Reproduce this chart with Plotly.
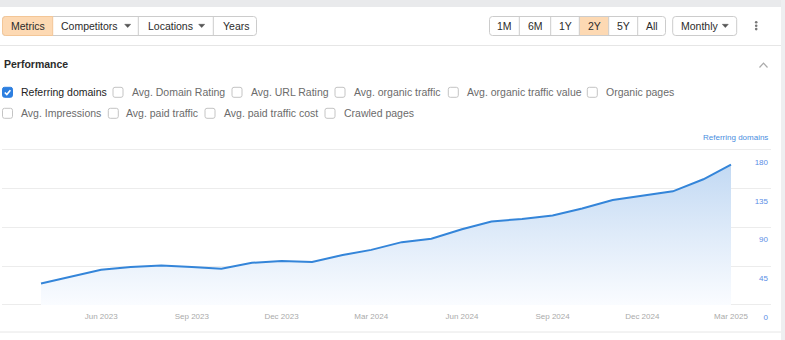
import plotly.graph_objects as go
import pandas as pd

# ---------------- data ----------------
months = ["2023-04-01", "2023-05-01", "2023-06-01", "2023-07-01", "2023-08-01", "2023-09-01",
          "2023-10-01", "2023-11-01", "2023-12-01", "2024-01-01", "2024-02-01", "2024-03-01",
          "2024-04-01", "2024-05-01", "2024-06-01", "2024-07-01", "2024-08-01", "2024-09-01",
          "2024-10-01", "2024-11-01", "2024-12-01", "2025-01-01", "2025-02-01", "2025-03-01"]
referring_domains = [25, 33, 41, 44, 46, 44, 42, 49, 51, 50, 58, 64,
                     73, 77, 88, 97, 100, 104, 112, 122, 127, 132, 146, 163]
x_tick_dates = ["2023-06-01", "2023-09-01", "2023-12-01", "2024-03-01",
                "2024-06-01", "2024-09-01", "2024-12-01", "2025-03-01"]
x_tick_labels = ["Jun 2023", "Sep 2023", "Dec 2023", "Mar 2024",
                 "Jun 2024", "Sep 2024", "Dec 2024", "Mar 2025"]
y_tick_values = [0, 45, 90, 135, 180]
toolbar_left = ["Metrics", "Competitors", "Locations", "Years"]
period_buttons = ["1M", "6M", "1Y", "2Y", "5Y", "All"]
metrics_row1 = ["Referring domains", "Avg. Domain Rating", "Avg. URL Rating",
                "Avg. organic traffic", "Avg. organic traffic value", "Organic pages"]
metrics_row2 = ["Avg. Impressions", "Avg. paid traffic", "Avg. paid traffic cost", "Crawled pages"]

# ---------------- layout constants ----------------
W, H = 785, 340
FONT = "Liberation Sans, Arial, sans-serif"
PLOT_L, PLOT_R = 2, 771
Y_TOP_PX, Y_ZERO_PX = 150, 305          # pixel rows of 180 and 0
Y_MAX = 180
Y_PAD = 1.5                              # small padding so edge gridlines are drawn
px_per_unit = (Y_ZERO_PX - Y_TOP_PX) / Y_MAX
dom_top_px = Y_TOP_PX - Y_PAD * px_per_unit
dom_bot_px = Y_ZERO_PX + Y_PAD * px_per_unit
X_FIRST_PX, X_LAST_PX = 41, 731

t0 = pd.Timestamp(months[0])
t1 = pd.Timestamp(months[-1])
days = (t1 - t0).days
px_per_day = (X_LAST_PX - X_FIRST_PX) / days
x_left = t0 - pd.Timedelta(days=(X_FIRST_PX - PLOT_L) / px_per_day)
x_right = t1 + pd.Timedelta(days=(PLOT_R - X_LAST_PX) / px_per_day)

fig = go.Figure()

fig.add_trace(go.Scatter(
    x=months, y=referring_domains, mode="lines",
    line=dict(color="#3485d9", width=2),
    fill="tozeroy",
    fillgradient=dict(type="vertical", start=0, stop=max(referring_domains),
                      colorscale=[[0, "rgba(250,252,255,1)"], [0.5, "rgba(223,235,249,1)"],
                                  [1, "rgba(194,217,243,1)"]]),
    hoverinfo="skip", showlegend=False,
))
# invisible overlay subplot in pixel coordinates for the UI chrome
fig.add_trace(go.Scatter(x=[0], y=[0], xaxis="x2", yaxis="y2", mode="markers",
                         marker=dict(opacity=0), hoverinfo="skip", showlegend=False))

shapes = []
annotations = []


def rrect(x0, y0, x1, y1, r, left=True, right=True):
    rl = r if left else 0
    rr = r if right else 0
    return (f"M{x0+rl},{y0} L{x1-rr},{y0} Q{x1},{y0} {x1},{y0+rr} L{x1},{y1-rr} "
            f"Q{x1},{y1} {x1-rr},{y1} L{x0+rl},{y1} Q{x0},{y1} {x0},{y1-rl} "
            f"L{x0},{y0+rl} Q{x0},{y0} {x0+rl},{y0} Z")


def add_path(path, fill=None, line="rgba(0,0,0,0)", width=1):
    shapes.append(dict(type="path", path=path, xref="x2", yref="y2",
                       fillcolor=fill if fill else "rgba(0,0,0,0)",
                       line=dict(color=line, width=width), layer="above"))


def add_rect(x0, y0, x1, y1, fill, layer="below"):
    shapes.append(dict(type="rect", x0=x0, y0=y0, x1=x1, y1=y1, xref="x2", yref="y2",
                       fillcolor=fill, line=dict(width=0), layer=layer))


def add_line(x0, y0, x1, y1, color, width=1):
    shapes.append(dict(type="line", x0=x0, y0=y0, x1=x1, y1=y1, xref="x2", yref="y2",
                       line=dict(color=color, width=width), layer="above"))


def add_text(x, y, text, size=10.5, color="#333333", anchor="left", bold=False):
    annotations.append(dict(x=x, y=y, xref="x2", yref="y2", text=f"<b>{text}</b>" if bold else text,
                            showarrow=False, xanchor=anchor, yanchor="middle",
                            font=dict(family=FONT, size=size, color=color)))


def tri(x, y, color="#555555"):
    add_path(f"M{x-3},{y-1.5} L{x+3},{y-1.5} L{x},{y+1.8} Z", fill=color, line=color, width=0.5)


# page background pieces
add_rect(0, 0, W, 7, "#e9eaec")
add_rect(781, 0, W, H, "#eeeff1")
add_line(0, 45.5, 781, 45.5, "#e6e6e6")
add_line(0, 332, 781, 332, "#e6e6e6")

BORDER = "#cccccc"
PEACH = "#fdd9b3"
PEACH_BORDER = "#f3c697"
BY0, BY1 = 16.5, 35.5
BCY = 25.8

# left toolbar
lb_edges = [2.5, 52.7, 138.3, 213.3, 256.5]
lb_centers = [27.7, 89.0, 170.0, 235.5]
add_path(rrect(lb_edges[0], BY0, lb_edges[-1], BY1, 3), fill="#ffffff", line=BORDER)
add_path(rrect(lb_edges[0], BY0, lb_edges[1], BY1, 3, right=False), fill=PEACH, line=PEACH_BORDER)
for e in lb_edges[2:-1]:
    add_line(e, BY0, e, BY1, BORDER)
for i, lab in enumerate(toolbar_left):
    add_text(lb_centers[i], BCY, lab, anchor="center", color="#2b2b2b")
tri(127.7, BCY)
tri(201.7, BCY)

# period toolbar
pb_edges = [489.5, 519.3, 550.7, 579.3, 608.7, 637.7, 665.5]
add_path(rrect(pb_edges[0], BY0, pb_edges[-1], BY1, 3), fill="#ffffff", line=BORDER)
add_rect(pb_edges[3], BY0 + 0.5, pb_edges[4], BY1 - 0.5, PEACH, layer="above")
for e in pb_edges[1:-1]:
    add_line(e, BY0, e, BY1, BORDER)
for i, lab in enumerate(period_buttons):
    add_text((pb_edges[i] + pb_edges[i + 1]) / 2, BCY, lab, anchor="center", color="#2b2b2b")

# Monthly dropdown
add_path(rrect(672.7, BY0, 736.7, BY1, 3), fill="#ffffff", line=BORDER)
add_text(699.5, BCY, "Monthly", anchor="center", color="#2b2b2b")
tri(725.3, BCY)

# kebab menu
for cy in (22.3, 25.7, 29.1):
    shapes.append(dict(type="circle", x0=754.9, x1=757.5, y0=cy - 1.3, y1=cy + 1.3,
                       xref="x2", yref="y2", fillcolor="#777777", line=dict(width=0),
                       layer="above"))

# Performance header + chevron
add_text(2, 64, "Performance", bold=True, color="#2b2b2b")
add_path("M759.5,67.5 L763.5,63.2 L767.5,67.5", line="#aaaaaa", width=1.2)

# metric checkboxes
row1_box = [2.5, 113, 232, 335, 448.3, 587.3]
row1_txt = [19, 130, 248.7, 351.7, 464.5, 604]
row2_box = [2.5, 108.3, 205, 325]
row2_txt = [19, 124.3, 221.7, 341.7]


def checkbox(x, cy, checked):
    y0 = cy - 5
    if checked:
        add_path(rrect(x, y0, x + 10, y0 + 10, 2), fill="#2d7fe0", line="#2d7fe0")
        add_path(f"M{x+2.3},{y0+5.2} L{x+4.3},{y0+7.3} L{x+7.9},{y0+2.9}",
                 line="#ffffff", width=1.6)
    else:
        add_path(rrect(x, y0, x + 10, y0 + 10, 2), fill="#ffffff", line="#c4c4c4")


for i, lab in enumerate(metrics_row1):
    checkbox(row1_box[i], 92.3, i == 0)
    add_text(row1_txt[i], 92.0, lab, color="#222222" if i == 0 else "#6b6b6b")
for i, lab in enumerate(metrics_row2):
    checkbox(row2_box[i], 113.3, False)
    add_text(row2_txt[i], 113.0, lab, color="#6b6b6b")

# series title at top right
add_text(770, 137.5, "Referring domains", size=8, color="#4a8ee0", anchor="right")

fig.update_layout(
    width=W, height=H, autosize=False,
    margin=dict(l=0, r=0, t=0, b=0, pad=0, autoexpand=False),
    paper_bgcolor="#ffffff", plot_bgcolor="rgba(0,0,0,0)",
    font=dict(family=FONT),
    showlegend=False,
    xaxis=dict(
        domain=[PLOT_L / W, PLOT_R / W], range=[x_left, x_right], type="date",
        tickvals=x_tick_dates, ticktext=x_tick_labels,
        tickfont=dict(size=8, color="#aaaaaa", family=FONT),
        showgrid=False, zeroline=False, showline=False, ticks="",
        ticklabelstandoff=4, fixedrange=True, automargin=False,
    ),
    yaxis=dict(
        domain=[1 - dom_bot_px / H, 1 - dom_top_px / H], range=[-Y_PAD, Y_MAX + Y_PAD],
        tickvals=y_tick_values, side="right",
        ticklabelposition="inside", ticklabelshift=12, ticklabeloverflow="allow",
        tickfont=dict(size=8, color="#5b8ee6", family=FONT),
        showgrid=True, gridcolor="#ececec", gridwidth=1,
        zeroline=False, showline=False, ticks="", fixedrange=True, automargin=False,
    ),
    xaxis2=dict(domain=[0, 1], range=[0, W], visible=False, anchor="y2",
                fixedrange=True, automargin=False),
    yaxis2=dict(domain=[0, 1], range=[H, 0], visible=False, anchor="x2",
                fixedrange=True, automargin=False),
    shapes=shapes,
    annotations=annotations,
)

fig.write_html("out.html")
